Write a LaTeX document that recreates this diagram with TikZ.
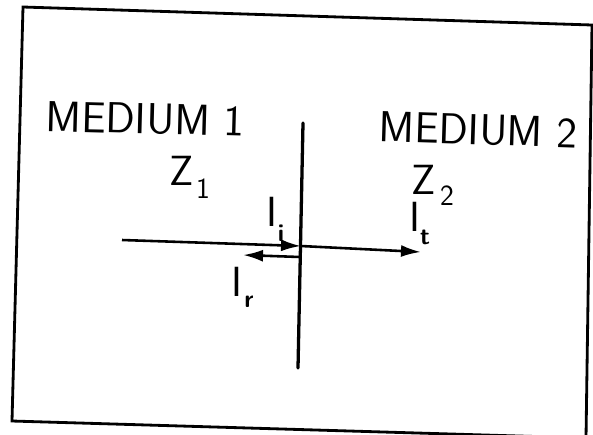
\documentclass[tikz,border=0pt]{standalone}
\usepackage{tikz}
\usetikzlibrary{arrows.meta,positioning,calc}
\tikzset{
  medlbl/.style={font=\sffamily\fontsize{37}{40}\selectfont,inner sep=0pt},
  implbl/.style={font=\sffamily\fontsize{36}{40}\selectfont,inner sep=0pt},
  sublbl/.style={font=\sffamily\fontsize{25}{28}\selectfont,inner sep=0pt},
  smlbl/.style={font=\sffamily\bfseries\fontsize{21}{24}\selectfont,inner sep=0pt},
  frame/.style={line width=2.4pt,black},
  iface/.style={line width=2.8pt,black,line cap=round},
  wave/.style={line width=2.2pt,black,-{Latex[length=6mm,width=3.6mm]}},
}

\begin{document}
\begin{tikzpicture}[x=0.03cm,y=-0.03cm]
  \useasboundingbox (0,0) rectangle (593,434);
  \clip (0,0) rectangle (593,434);
  \draw[frame] (23,7) -- (592,25) -- (586,438) -- (12,421) -- cycle;

  % media labels
  \node[medlbl,rotate=-1.5] (m1) at (145,119) {MEDIUM 1};
  \node[medlbl,rotate=-1.8] (m2) at (478,130) {MEDIUM 2};
  \node[implbl] (z1) at (182,171) {Z};
  \node[sublbl] (z1s) at (203,189) {1};
  \node[implbl] (z2) at (424,180) {Z};
  \node[sublbl] (z2s) at (447,196) {2};

  % interface
  \coordinate (itop) at (303,123);
  \coordinate (ibot) at (298,368);
  \draw[iface] (itop) -- (ibot);

  % waves
  \coordinate (src) at (122,240);
  \coordinate (hit) at (301,246);
  \coordinate (ttip) at (421,252);
  \coordinate (rfoot) at (300,257);
  \coordinate (rtip) at (243,255);
  \draw[wave] (src) -- (hit);
  \draw[wave] (hit) -- (ttip);
  \draw[wave] (rfoot) -- (rtip);

  \node[implbl] (ii) at (272,212) {I};
  \node[smlbl] (iis) at (281,233) {i};
  \node[implbl] (it) at (415,217) {I};
  \node[smlbl] (its) at (425,237) {t};
  \node[implbl] (ir) at (237,282) {I};
  \node[smlbl] (irs) at (249,302) {r};
\end{tikzpicture}
\end{document}
